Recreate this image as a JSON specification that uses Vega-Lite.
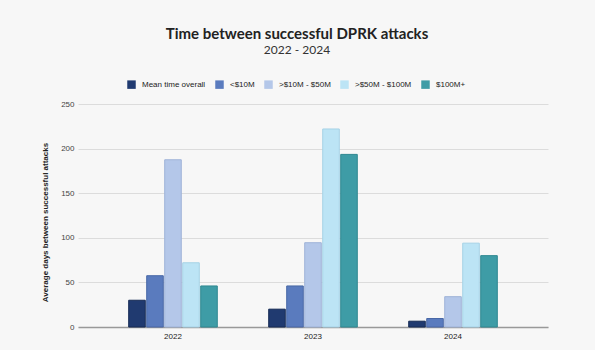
{
  "$schema": "https://vega.github.io/schema/vega-lite/v6.json",
  "width": 470,
  "height": 223,
  "autosize": {"type": "none"},
  "padding": {"left": 78, "top": 104, "right": 47, "bottom": 23},
  "background": "#f7f7f7",
  "title": {
    "text": "Time between successful DPRK attacks",
    "subtitle": "2022 - 2024",
    "anchor": "middle",
    "frame": "group",
    "dx": -16,
    "offset": 24,
    "font": "Lato",
    "fontSize": 15,
    "fontWeight": "bold",
    "color": "#222222",
    "subtitleFont": "Lato",
    "subtitleFontSize": 12,
    "subtitleColor": "#333333",
    "subtitlePadding": 3
  },
  "data": {
    "values": [
      {"year": "2022", "category": "Mean time overall", "days": 30},
      {"year": "2022", "category": "<$10M", "days": 57.5},
      {"year": "2022", "category": ">$10M - $50M", "days": 187.5},
      {"year": "2022", "category": ">$50M - $100M", "days": 72},
      {"year": "2022", "category": "$100M+", "days": 46},
      {"year": "2023", "category": "Mean time overall", "days": 20},
      {"year": "2023", "category": "<$10M", "days": 46},
      {"year": "2023", "category": ">$10M - $50M", "days": 94.5},
      {"year": "2023", "category": ">$50M - $100M", "days": 222},
      {"year": "2023", "category": "$100M+", "days": 193.5},
      {"year": "2024", "category": "Mean time overall", "days": 6.5},
      {"year": "2024", "category": "<$10M", "days": 9.5},
      {"year": "2024", "category": ">$10M - $50M", "days": 34},
      {"year": "2024", "category": ">$50M - $100M", "days": 94},
      {"year": "2024", "category": "$100M+", "days": 80}
    ]
  },
  "mark": {"type": "bar", "strokeWidth": 1},
  "encoding": {
    "x": {
      "field": "year",
      "type": "nominal",
      "scale": {"paddingInner": 0.357, "paddingOuter": 0.357},
      "axis": {
        "title": null,
        "labelAngle": 0,
        "labelFont": "Liberation Sans",
        "labelFontSize": 8,
        "labelColor": "#222222",
        "labelPadding": 5,
        "ticks": false,
        "domainColor": "#999999",
        "domainWidth": 1.5,
        "grid": false
      }
    },
    "xOffset": {
      "field": "category",
      "type": "nominal",
      "sort": ["Mean time overall", "<$10M", ">$10M - $50M", ">$50M - $100M", "$100M+"],
      "scale": {"paddingInner": 0.08, "paddingOuter": 0.04}
    },
    "y": {
      "field": "days",
      "type": "quantitative",
      "scale": {"domain": [0, 250]},
      "axis": {
        "title": "Average days between successful attacks",
        "titleFont": "Liberation Sans",
        "titleFontSize": 8,
        "titleFontWeight": "bold",
        "titleColor": "#222222",
        "titlePadding": 11,
        "titleY": 118,
        "values": [0, 50, 100, 150, 200, 250],
        "labelFont": "Liberation Sans",
        "labelFontSize": 8,
        "labelColor": "#444444",
        "labelPadding": 4,
        "ticks": false,
        "domain": false,
        "gridColor": "#dcdcdc",
        "gridWidth": 1
      }
    },
    "color": {
      "field": "category",
      "type": "nominal",
      "sort": ["Mean time overall", "<$10M", ">$10M - $50M", ">$50M - $100M", "$100M+"],
      "scale": {
        "domain": ["Mean time overall", "<$10M", ">$10M - $50M", ">$50M - $100M", "$100M+"],
        "range": ["#203a70", "#5a7bbe", "#b4c7e9", "#bce4f5", "#3e9ca6"]
      },
      "legend": {
        "title": null,
        "orient": "none",
        "legendX": 49,
        "legendY": -24,
        "direction": "horizontal",
        "symbolType": "square",
        "symbolSize": 72,
        "symbolStrokeWidth": 0,
        "labelFont": "Liberation Sans",
        "labelFontSize": 8,
        "labelColor": "#222222",
        "labelOffset": 6,
        "columnPadding": 9
      }
    },
    "stroke": {
      "field": "category",
      "type": "nominal",
      "scale": {
        "domain": ["Mean time overall", "<$10M", ">$10M - $50M", ">$50M - $100M", "$100M+"],
        "range": ["#162b55", "#4867a6", "#9fb3d8", "#a6d2e6", "#2e8891"]
      },
      "legend": null
    }
  },
  "config": {"view": {"stroke": null}}
}
